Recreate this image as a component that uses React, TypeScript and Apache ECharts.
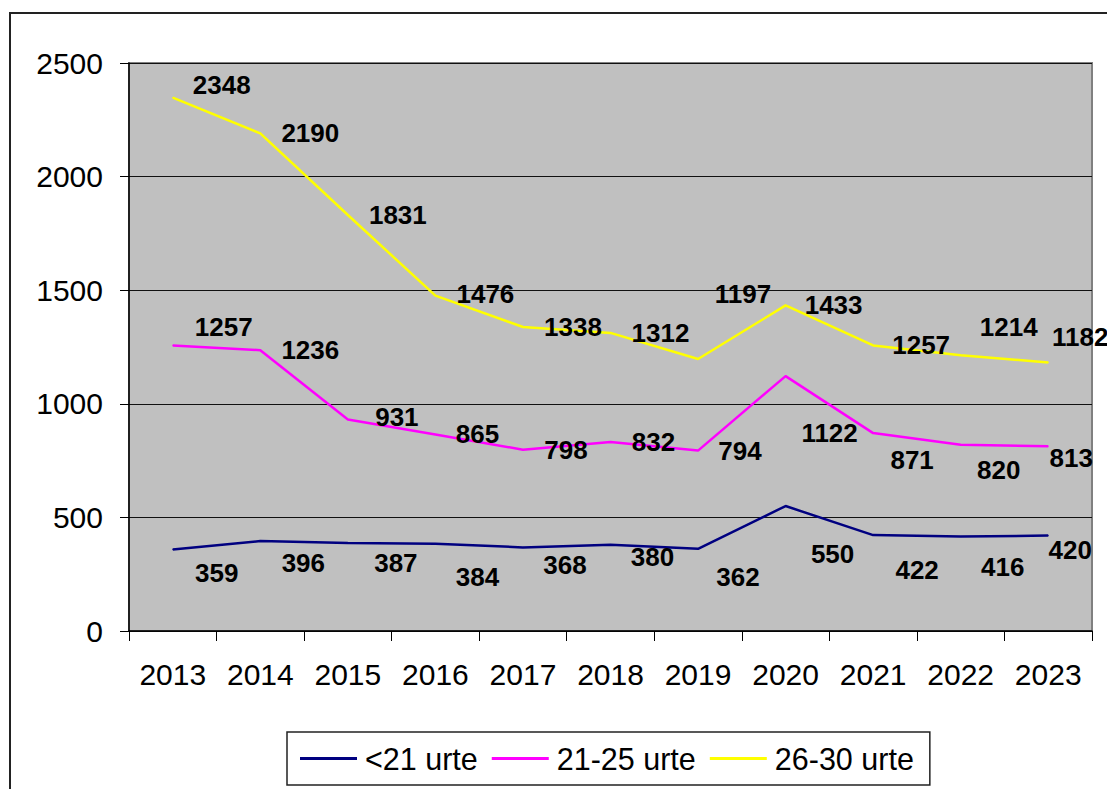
import React, { useEffect, useRef } from "react";
import * as echarts from "echarts";

const years = ["2013", "2014", "2015", "2016", "2017", "2018", "2019", "2020", "2021", "2022", "2023"];
const seriesNames = ["<21 urte", "21-25 urte", "26-30 urte"];
const under21 = [359, 396, 387, 384, 368, 380, 362, 550, 422, 416, 420];
const age21to25 = [1257, 1236, 931, 865, 798, 832, 794, 1122, 871, 820, 813];
const age26to30 = [2348, 2190, 1831, 1476, 1338, 1312, 1197, 1433, 1257, 1214, 1182];
const yMin = 0;
const yMax = 2500;
const yStep = 500;

// label offsets (label centre relative to the point), in pixels
const offsetsUnder21 = [[44, 24], [43, 22], [48, 20], [42, 33], [42, 18], [42, 12], [40, 28], [47, 48], [44, 35], [42, 31], [22, 14]];
const offsets21to25 = [[51, -18], [50, 0], [49, -2], [42, 0], [43, 0], [43, 0], [42, 0], [44, 57], [39, 27], [38, 25], [23, 12]];
const offsets26to30 = [[49, -13], [50, 0], [50, 0], [50, -2], [50, 0], [50, 0], [45, -65], [48, 0], [48, 0], [48, -28], [32, -25]];

const colors = ["#000080", "#FF00FF", "#FFFF00"];
const FONT = "'Liberation Sans', Arial, sans-serif";

function makeSeries(name: string, values: number[], offsets: number[][], color: string) {
  return {
    name,
    type: "line",
    symbol: "circle",
    symbolSize: 1,
    showSymbol: true,
    itemStyle: { color },
    lineStyle: { color, width: 2.5 },
    label: {
      show: true,
      position: "inside",
      color: "#000",
      fontFamily: FONT,
      fontSize: 26,
      fontWeight: "bold",
      textBorderWidth: 0,
    },
    data: values.map((v, i) => ({ value: v, label: { offset: offsets[i] } })),
  };
}

export default function App() {
  const ref = useRef<HTMLDivElement>(null);
  useEffect(() => {
    if (!ref.current) return;
    const chart = echarts.init(ref.current, undefined, { renderer: "svg" });
    chart.setOption({
      animation: false,
      backgroundColor: "#ffffff",
      textStyle: { fontFamily: FONT },
      graphic: [
        {
          type: "rect",
          shape: { x: 10, y: 13, width: 1200, height: 900 },
          style: { fill: "none", stroke: "#222", lineWidth: 2 },
          silent: true,
        },
      ],
      grid: {
        left: 129,
        top: 63,
        right: 15,
        bottom: 158,
        show: true,
        backgroundColor: "#C0C0C0",
        borderColor: "#808080",
        borderWidth: 2,
      },
      legend: {
        left: 287,
        top: 732,
        data: seriesNames.map((n) => ({ name: n, icon: "rect" })),
        itemWidth: 57,
        itemHeight: 3,
        itemGap: 14,
        padding: [11, 16, 11, 13],
        borderColor: "#222",
        borderWidth: 1.5,
        textStyle: { fontSize: 30.5, color: "#000", fontFamily: FONT, padding: [0, 0, 0, 3] },
      },
      xAxis: {
        type: "category",
        data: years,
        boundaryGap: true,
        axisLine: { lineStyle: { color: "#000", width: 1.5 } },
        axisTick: { show: true, length: 10, lineStyle: { color: "#000" } },
        axisLabel: { color: "#000", fontSize: 30, margin: 28, fontFamily: FONT, interval: 0 },
        splitLine: { show: false },
      },
      yAxis: {
        type: "value",
        min: yMin,
        max: yMax,
        interval: yStep,
        axisLine: { show: true, lineStyle: { color: "#000", width: 1.5 } },
        axisTick: { show: true, length: 9, lineStyle: { color: "#000" } },
        axisLabel: {
          color: "#000",
          fontSize: 30,
          margin: 26,
          fontFamily: FONT,
          formatter: (v: number) => String(v),
        },
        splitLine: { show: true, lineStyle: { color: "#111", width: 1 } },
      },
      series: [
        makeSeries(seriesNames[0], under21, offsetsUnder21, colors[0]),
        makeSeries(seriesNames[1], age21to25, offsets21to25, colors[1]),
        makeSeries(seriesNames[2], age26to30, offsets26to30, colors[2]),
      ],
    });
    return () => chart.dispose();
  }, []);
  return (
    <div
      ref={ref}
      style={{ position: "fixed", left: 0, top: 0, width: 1107, height: 789 }}
    />
  );
}
